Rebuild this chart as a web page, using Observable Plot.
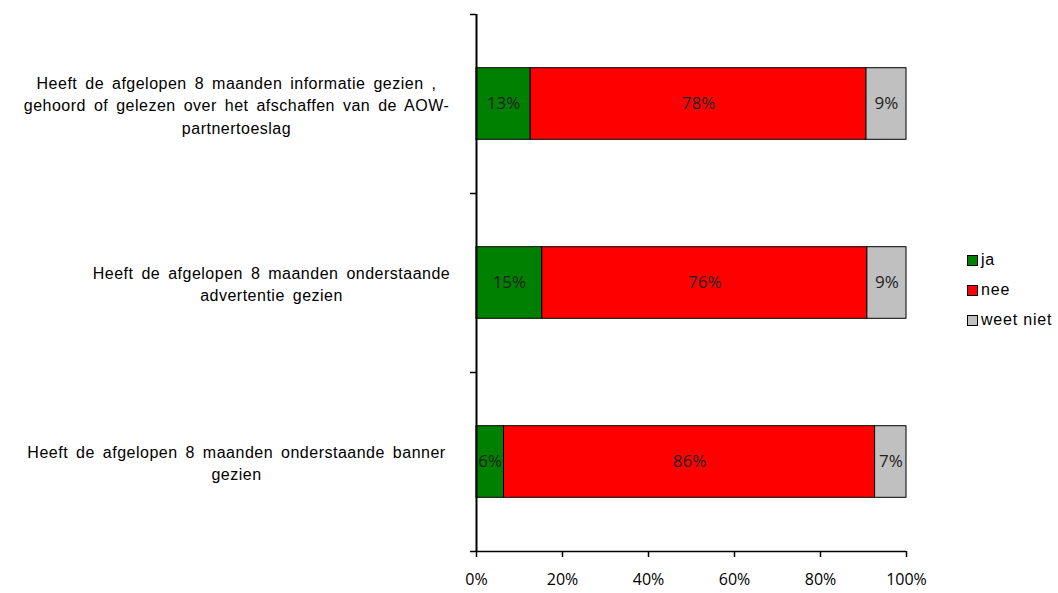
<!DOCTYPE html>
<html><head><meta charset="utf-8">
<script src="https://cdn.jsdelivr.net/npm/d3@7"></script>
<script src="https://cdn.jsdelivr.net/npm/@observablehq/plot@0.6"></script>
<style>
body{margin:0;background:#fff;}
#wrap{position:relative;width:1058px;height:593px;}
#legend{position:absolute;left:967px;top:245px;font-family:"Liberation Sans",Arial,sans-serif;font-size:16px;letter-spacing:0.8px;color:#000;}
#legend div{height:30px;display:flex;align-items:center;}
#legend span.sw{display:inline-block;width:9px;height:9px;border:1px solid #000;margin-right:3px;}
.qlabel text{letter-spacing:0.5px;word-spacing:3px;}
</style></head>
<body><div id="wrap"><div id="legend"></div></div>
<script>
const questions = [
  "Heeft de afgelopen 8 maanden informatie gezien ,\ngehoord of gelezen over het afschaffen van de AOW-\npartnertoeslag",
  "Heeft de afgelopen 8 maanden onderstaande\nadvertentie gezien",
  "Heeft de afgelopen 8 maanden onderstaande banner\ngezien"
];
const answers = ["ja", "nee", "weet niet"];
const colors = ["#008000", "#ff0000", "#c0c0c0"];
const jaValues = [12.6, 15.3, 6.4];
const neeValues = [78.1, 75.6, 86.3];
const weetNietValues = [9.3, 9.1, 7.3];
const xTicks = [0, 20, 40, 60, 80, 100];

const series = [jaValues, neeValues, weetNietValues];
const rows = [];
questions.forEach((q, i) => {
  let cum = 0;
  answers.forEach((a, j) => {
    const v = series[j][i];
    rows.push({q, i, answer: a, x1: cum, x2: cum + v, y1: i + 0.3, y2: i + 0.7, ym: i + 0.5, label: Math.round(v) + "%"});
    cum += v;
  });
});

const qText = {y: (d, i) => i + 0.5, text: d => d, frameAnchor: "left", textAnchor: "middle", lineHeight: 1.4, fontSize: 16, fontFamily: "'Liberation Sans', Arial, sans-serif", fill: "#000", className: "qlabel"};

const plot = Plot.plot({
  width: 1058, height: 593,
  marginLeft: 476, marginRight: 152, marginTop: 14, marginBottom: 42,
  style: {fontFamily: "'Open Sans', sans-serif", fontSize: "16px", color: "#000", background: "transparent"},
  x: {domain: [0, 100]},
  y: {domain: [0, 3], axis: null, reverse: true},
  color: {domain: answers, range: colors},
  marks: [
    Plot.rect(rows, {x1: "x1", x2: "x2", y1: "y1", y2: "y2", fill: "answer", stroke: "#000", strokeWidth: 1}),
    Plot.text(rows, {x: d => (d.x1 + d.x2) / 2, y: "ym", text: "label", fill: "#222", fontSize: 17, fontFamily: "'Open Sans', sans-serif"}),
    Plot.text(questions, {...qText, filter: (d, i) => i !== 1, dx: -240}),
    Plot.text(questions, {...qText, filter: (d, i) => i === 1, dx: -205}),
    Plot.axisY([0, 1, 2, 3], {tickSize: 6, tickFormat: () => "", strokeWidth: 1.5}),
    Plot.ruleX([0], {stroke: "#000", strokeWidth: 2}),
    Plot.axisX(xTicks, {tickSize: 6, tickPadding: 16, tickFormat: d => d + "%", fontSize: 16, anchor: "bottom", strokeWidth: 1.5}),
    Plot.ruleY([3], {stroke: "#000", strokeWidth: 1.5})
  ]
});
document.getElementById("wrap").prepend(plot);
const lg = document.getElementById("legend");
answers.forEach((a, j) => {
  const d = document.createElement("div");
  d.innerHTML = `<span class="sw" style="background:${colors[j]}"></span>${a}`;
  lg.appendChild(d);
});
</script></body></html>
